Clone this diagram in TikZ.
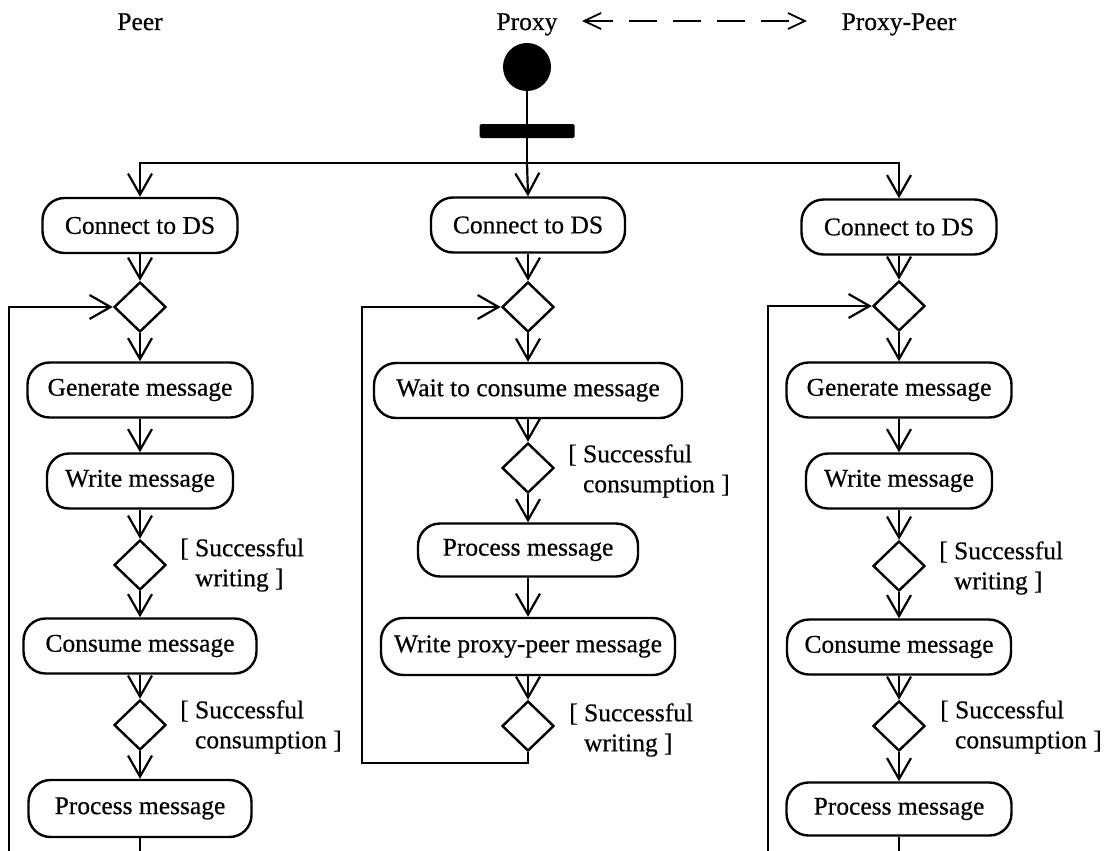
\documentclass[tikz,border=0pt]{standalone}
\usepackage{fontspec}
\setmainfont{Liberation Serif}[UprightFeatures={FakeBold=0.5}]
\usetikzlibrary{shapes.geometric,arrows.meta}

\begin{document}
\begin{tikzpicture}[x=1pt,y=-1pt,
  every node/.style={font=\fontsize{25.5}{30}\selectfont},
  act/.style={draw, line width=2.4pt, rounded corners=22pt, minimum height=55pt, inner sep=0pt},
  decision/.style={draw, diamond, line width=2.4pt, minimum width=52pt, minimum height=50pt, inner sep=0pt},
  guard/.style={anchor=west, align=left, inner sep=0pt},
  lane/.style={anchor=base, inner sep=0pt},
  flow/.style={line width=2.2pt, -{Straight Barb[length=21pt,width=24pt]}},
  link/.style={line width=2.2pt},
  channel/.style={line width=1.8pt, dash pattern=on 28pt off 16pt,
    {Straight Barb[length=17pt,width=16pt]}-{Straight Barb[length=17pt,width=16pt]}}
]
\useasboundingbox (0,0) rectangle (1108,851);

% swimlane titles
\node[lane] (peerT)  at (140,30) {Peer};
\node[lane] (proxyT) at (527,30) {Proxy};
\node[lane] (ppeerT) at (899,30) {Proxy-Peer};
\coordinate (chL) at (582,21);
\coordinate (chR) at (807,21);
\draw[channel] (chL) -- (chR);

% initial node and fork bar
\node[circle, fill=black, minimum size=48pt, inner sep=0pt] (start) at (527,67) {};
\node[rectangle, fill=black, rounded corners=1.5pt, minimum width=95pt, minimum height=14pt, inner sep=0pt] (bar) at (527,131) {};
\coordinate (fork) at (527,163);

% Peer lane
\node[act, minimum width=195pt] (lc)  at (140,225.5) {Connect to DS};
\node[decision]                 (ld1) at (140,307) {};
\node[act, minimum width=225pt] (lg)  at (140,390) {Generate message};
\node[act, minimum width=186pt] (lw)  at (140,481) {Write message};
\node[decision]                 (ld2) at (140,565) {};
\node[act, minimum width=233pt] (lcm) at (140,646) {Consume message};
\node[decision]                 (ld3) at (140,725) {};
\node[act, minimum width=223pt, minimum height=57pt] (lp) at (140,808.5) {Process message};
\node[guard] (lgw) at (180,565) {[ Successful\\\hphantom{[ }writing ]};
\node[guard] (lgc) at (180,727) {[ Successful\\\hphantom{[ }consumption ]};
\coordinate (lloop) at (9,853);

% Proxy lane
\node[act, minimum width=194pt] (mc)  at (528,225) {Connect to DS};
\node[decision]                 (md1) at (528,307) {};
\node[act, minimum width=308pt] (mwt) at (528,390.5) {Wait to consume message};
\node[decision]                 (md2) at (528,468) {};
\node[act, minimum width=220pt, minimum height=53pt] (mp) at (528,550) {Process message};
\node[act, minimum width=294pt, minimum height=57pt] (mwp) at (528,646.5) {Write proxy-peer message};
\node[decision]                 (md3) at (528,726) {};
\node[guard] (mgc) at (568,471) {[ Successful\\\hphantom{[ }consumption ]};
\node[guard] (mgw) at (569,730) {[ Successful\\\hphantom{[ }writing ]};
\coordinate (mloop) at (362,763);

% Proxy-Peer lane
\node[act, minimum width=195pt] (rc)  at (899,227) {Connect to DS};
\node[decision]                 (rd1) at (899,306) {};
\node[act, minimum width=225pt] (rg)  at (899,390) {Generate message};
\node[act, minimum width=186pt] (rw)  at (899,481) {Write message};
\node[decision]                 (rd2) at (899,566) {};
\node[act, minimum width=224pt] (rcm) at (899,647) {Consume message};
\node[decision]                 (rd3) at (899,726) {};
\node[act, minimum width=225pt, minimum height=53pt] (rp) at (899,809) {Process message};
\node[guard] (rgw) at (939,568) {[ Successful\\\hphantom{[ }writing ]};
\node[guard] (rgc) at (940,727) {[ Successful\\\hphantom{[ }consumption ]};
\coordinate (rloop) at (768,853);

% start and fork
\draw[link] (start) -- (bar);
\draw[link] (bar) -- (fork);
\draw[flow] (fork) -| (lc.north);
\draw[flow] (fork) -- (mc.north);
\draw[flow] (fork) -| (rc.north);

% Peer flow
\draw[flow] (lc.south) -- (ld1.north);
\draw[flow] (ld1.south) -- (lg.north);
\draw[flow] (lg.south) -- (lw.north);
\draw[flow] (lw.south) -- (ld2.north);
\draw[flow] (ld2.south) -- (lcm.north);
\draw[flow] (lcm.south) -- (ld3.north);
\draw[flow] (ld3.south) -- (lp.north);
\draw[link] (lp.south) -- (lp.south |- lloop);
\draw[flow] (lloop) |- (ld1.west);

% Proxy flow
\draw[flow] (mc.south) -- (md1.north);
\draw[flow] (md1.south) -- (mwt.north);
\draw[flow] (mwt.south) -- (md2.north);
\draw[flow] (md2.south) -- (mp.north);
\draw[flow] (mp.south) -- (mwp.north);
\draw[flow] (mwp.south) -- (md3.north);
\draw[flow] (md3.south) |- (mloop) |- (md1.west);

% Proxy-Peer flow
\draw[flow] (rc.south) -- (rd1.north);
\draw[flow] (rd1.south) -- (rg.north);
\draw[flow] (rg.south) -- (rw.north);
\draw[flow] (rw.south) -- (rd2.north);
\draw[flow] (rd2.south) -- (rcm.north);
\draw[flow] (rcm.south) -- (rd3.north);
\draw[flow] (rd3.south) -- (rp.north);
\draw[link] (rp.south) -- (rp.south |- rloop);
\draw[flow] (rloop) |- (rd1.west);
\end{tikzpicture}
\end{document}
